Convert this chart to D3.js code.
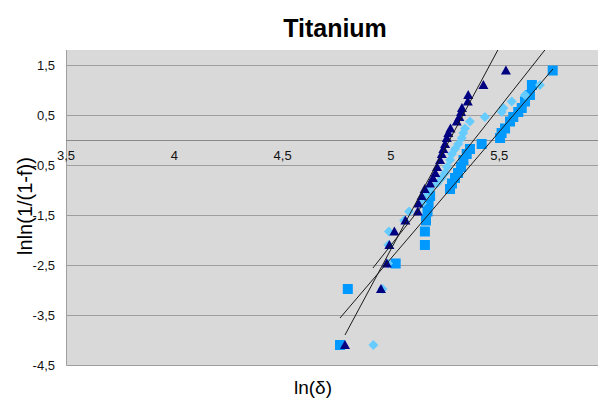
<!DOCTYPE html>
<html>
<head>
<meta charset="utf-8">
<script src="https://cdn.jsdelivr.net/npm/d3@7/dist/d3.min.js"></script>
<style>
    body { margin: 0; background: #ffffff; }
    text { font-family: "Liberation Sans", Arial, sans-serif; }
</style>
</head>
<body>
<div id="chart"></div>
<script>
// ranks shared by the three series (lnln(1/(1-f)))
var yLevels = [-4.1, -2.98, -2.47, -2.1, -1.83, -1.61, -1.43, -1.27, -1.12, -0.98,
    -0.87, -0.76, -0.66, -0.54, -0.40, -0.28, -0.18, -0.08, 0.04, 0.14,
    0.23, 0.37, 0.46, 0.56, 0.64, 0.77, 0.90, 1.10, 1.39];

// ln(delta) of each series
var triangleX = [4.788, 4.954, 4.981, 4.993, 5.016, 5.067, 5.124, 5.127, 5.142, 5.156,
    5.181, 5.194, 5.205, 5.213, 5.227, 5.235, 5.242, 5.250, 5.258, 5.265,
    5.275, 5.304, 5.316, 5.324, 5.328, 5.355, 5.357, 5.427, 5.531];
var diamondX = [4.919, 4.961, 4.987, 4.988, 4.991, 5.061, 5.084, 5.144, 5.162, 5.181,
    5.213, 5.235, 5.250, 5.259, 5.273, 5.282, 5.296, 5.311, 5.327, 5.334,
    5.342, 5.365, 5.434, 5.512, 5.519, 5.558, 5.619, 5.688];
var squareX = [4.765, 4.801, 5.022, 5.157, 5.157, 5.162, 5.169, 5.174, 5.181, 5.273,
    5.282, 5.296, 5.310, 5.324, 5.335, 5.350, 5.365, 5.419, 5.504, 5.511,
    5.527, 5.550, 5.565, 5.588, 5.604, 5.619, 5.642, 5.651, 5.747];

// linear trend lines, end points [x, y]
var trendTriangle = [[4.788, -3.90], [5.531, 2.10]];
var trendDiamond = [[4.917, -2.56], [5.72, 1.85]];
var trendSquare = [[4.765, -3.56], [5.748, 1.42]];

var xTicks = [3.5, 4, 4.5, 5, 5.5];
var yTicks = [-4.5, -3.5, -2.5, -1.5, -0.5, 0.5, 1.5];

(function () {
    var width = 598, height = 401;
    var plot = { left: 66, top: 50, right: 598, bottom: 365 };

    var x = d3.scaleLinear().domain([3.5, 6]).range([plot.left, 607.5]);
    var y = d3.scaleLinear().domain([-4.5, 1.8]).range([plot.bottom, plot.top]);

    var fmt = function (v) { return String(v).replace(".", ","); };

    var svg = d3.select("#chart")
        .append("svg")
        .attr("width", width)
        .attr("height", height);

    svg.append("defs").append("clipPath")
        .attr("id", "plot-clip")
        .append("rect")
        .attr("x", plot.left)
        .attr("y", plot.top)
        .attr("width", plot.right - plot.left)
        .attr("height", plot.bottom - plot.top);

    svg.append("rect")
        .attr("x", plot.left)
        .attr("y", plot.top)
        .attr("width", plot.right - plot.left)
        .attr("height", plot.bottom - plot.top)
        .attr("fill", "#d9d9d9");

    // horizontal grid lines
    svg.append("g")
        .selectAll("line")
        .data(yTicks.filter(function (d) { return d > -4.5; }))
        .enter()
        .append("line")
        .attr("x1", plot.left)
        .attr("x2", plot.right)
        .attr("y1", function (d) { return Math.round(y(d)) + 0.5; })
        .attr("y2", function (d) { return Math.round(y(d)) + 0.5; })
        .attr("stroke", "#9e9e9e")
        .attr("stroke-width", 1);

    // frame: left and bottom
    svg.append("path")
        .attr("d", "M" + (plot.left + 0.5) + "," + plot.top + "V" + (plot.bottom + 0.5) + "H" + plot.right)
        .attr("fill", "none")
        .attr("stroke", "#9e9e9e");

    // x axis crossing at y = 0
    svg.append("line")
        .attr("x1", plot.left)
        .attr("x2", plot.right)
        .attr("y1", Math.round(y(0)) + 0.5)
        .attr("y2", Math.round(y(0)) + 0.5)
        .attr("stroke", "#8a8a8a");

    svg.append("g")
        .selectAll("text")
        .data(xTicks)
        .enter()
        .append("text")
        .attr("x", function (d) { return x(d); })
        .attr("y", y(0) + 20)
        .attr("text-anchor", "middle")
        .attr("font-size", "13px")
        .attr("fill", "#111")
        .text(fmt);

    svg.append("g")
        .selectAll("text")
        .data(yTicks)
        .enter()
        .append("text")
        .attr("x", 55)
        .attr("y", function (d) { return y(d) + 5; })
        .attr("text-anchor", "end")
        .attr("font-size", "13px")
        .attr("fill", "#111")
        .text(fmt);

    var marks = svg.append("g").attr("clip-path", "url(#plot-clip)");

    function points(xs) {
        return xs.map(function (v, i) { return [v, yLevels[i]]; });
    }

    marks.append("g")
        .selectAll("rect")
        .data(points(squareX))
        .enter()
        .append("rect")
        .attr("x", function (d) { return x(d[0]) - 5; })
        .attr("y", function (d) { return y(d[1]) - 5; })
        .attr("width", 10)
        .attr("height", 10)
        .attr("fill", "#0099ff");

    marks.append("g")
        .selectAll("path")
        .data(points(diamondX))
        .enter()
        .append("path")
        .attr("transform", function (d) { return "translate(" + x(d[0]) + "," + y(d[1]) + ")"; })
        .attr("d", "M0,-5L5,0L0,5L-5,0Z")
        .attr("fill", "#66ccff");

    marks.append("g")
        .selectAll("path")
        .data(points(triangleX))
        .enter()
        .append("path")
        .attr("transform", function (d) { return "translate(" + x(d[0]) + "," + y(d[1]) + ")"; })
        .attr("d", "M0,-5L5,4L-5,4Z")
        .attr("fill", "#000080");

    var line = d3.line()
        .x(function (d) { return x(d[0]); })
        .y(function (d) { return y(d[1]); });

    marks.selectAll("path.trend")
        .data([trendTriangle, trendDiamond, trendSquare])
        .enter()
        .append("path")
        .attr("class", "trend")
        .attr("d", line)
        .attr("fill", "none")
        .attr("stroke", "#1a1a1a")
        .attr("stroke-width", 1);

    svg.append("text")
        .attr("x", 335)
        .attr("y", 37)
        .attr("text-anchor", "middle")
        .attr("font-size", "25px")
        .attr("font-weight", "bold")
        .text("Titanium");

    svg.append("text")
        .attr("x", 313)
        .attr("y", 394)
        .attr("text-anchor", "middle")
        .attr("font-size", "19px")
        .text("ln(\u03b4)");

    svg.append("text")
        .attr("transform", "translate(32,206) rotate(-90)")
        .attr("text-anchor", "middle")
        .attr("font-size", "20px")
        .text("lnln(1/(1-f))");
}());
</script>
</body>
</html>
